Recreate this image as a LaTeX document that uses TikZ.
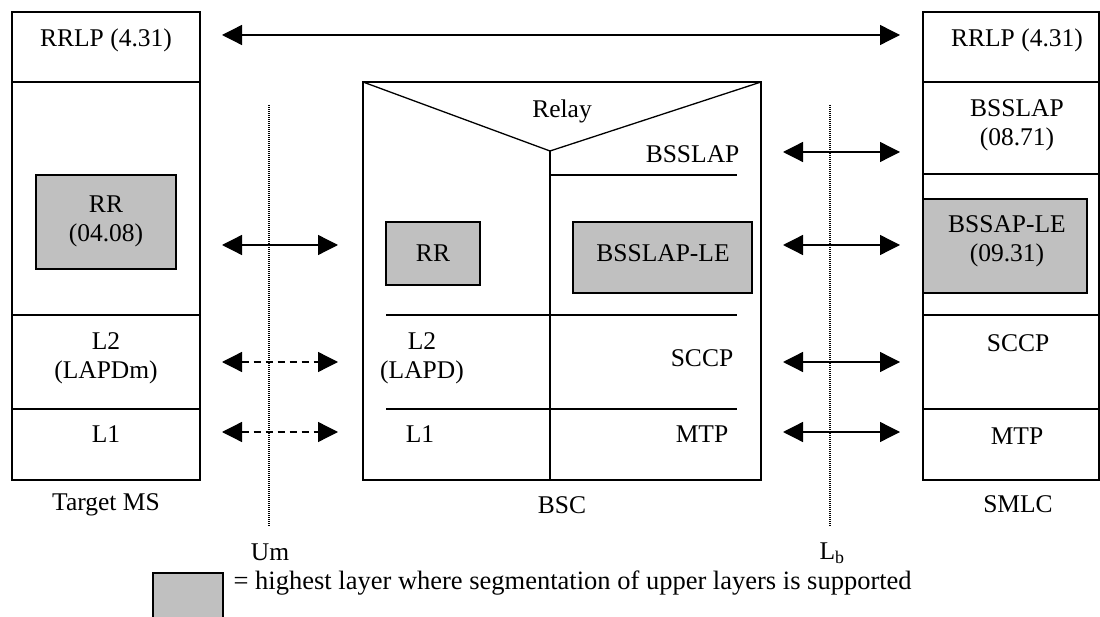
\documentclass[tikz,border=0pt]{standalone}
\usepackage{fontspec}
\setmainfont{Liberation Serif}
\usetikzlibrary{arrows.meta}
\definecolor{hlgray}{HTML}{C0C0C0}
\begin{document}
\begin{tikzpicture}[x=1pt,y=-1pt,line width=1.3pt,
  lbl/.style={font=\fontsize{25.5}{29}\selectfont,inner sep=0pt,align=center},
  hlbox/.style={draw,fill=hlgray,line width=1.3pt},
  biarrow/.style={{Triangle[length=20pt,width=20pt]}-{Triangle[length=20pt,width=20pt]},line width=1.3pt},
  dasharrow/.style={biarrow,dash pattern=on 7pt off 5pt},
  iface/.style={line width=1.2pt,dash pattern=on 1pt off 1pt}]
\useasboundingbox (0,0) rectangle (1100,617);

% ---------- Target MS ----------
\draw (12,12) rectangle (200,480);
\draw (12,82) -- (200,82);
\draw (12,315) -- (200,315);
\draw (12,409) -- (200,409);
\node[lbl] (msrrlp) at (106,40) {RRLP (4.31)};
\draw[hlbox] (36,175) rectangle (176,269);
\node[lbl] (msrr) at (106,221) {RR\\(04.08)};
\node[lbl] (msl2) at (106,358) {L2\\(LAPDm)};
\node[lbl] (msl1) at (106,434) {L1};
\node[lbl] (msname) at (106,505) {Target MS};

% ---------- BSC ----------
\draw (363,82) rectangle (761,480);
\coordinate (relayv) at (550,151);
\draw (363,82) -- (relayv) -- (761,82);
\draw (relayv) -- (550,480);
\node[lbl] (relay) at (562,111) {Relay};
\node[lbl,anchor=east] (bscbsslap) at (740,154) {BSSLAP};
\draw (550,175) -- (737,175);
\draw[hlbox] (386,222) rectangle (480,285);
\node[lbl] (bscrr) at (433,253) {RR};
\draw[hlbox] (573,222) rectangle (752,293);
\node[lbl] (bscle) at (663,253) {BSSLAP-LE};
\draw (386,315) -- (737,315);
\draw (386,409) -- (737,409);
\node[lbl] (bscl2) at (422,358) {L2\\(LAPD)};
\node[lbl] (bscsccp) at (702,358) {SCCP};
\node[lbl] (bscl1) at (420,434) {L1};
\node[lbl] (bscmtp) at (702,434) {MTP};
\node[lbl] (bscname) at (562,505) {BSC};

% ---------- SMLC ----------
\draw (923,12) -- (923,480) -- (1099,480) -- (1099,12) -- cycle;
\draw (923,82) -- (1099,82);
\draw (923,174) -- (1099,174);
\draw (923,315) -- (1099,315);
\draw (923,409) -- (1099,409);
\node[lbl] (smrrlp) at (1017,40) {RRLP (4.31)};
\node[lbl] (smbsslap) at (1017,125) {BSSLAP\\(08.71)};
\draw[hlbox] (923,199) rectangle (1087,293);
\node[lbl] (smle) at (1007,241) {BSSAP-LE\\(09.31)};
\node[lbl] (smsccp) at (1018,343) {SCCP};
\node[lbl] (smmtp) at (1017,436) {MTP};
\node[lbl] (smname) at (1018,504) {SMLC};

% ---------- interfaces ----------
\coordinate (umtop) at (269,105);
\coordinate (umbot) at (269,527);
\draw[iface] (umtop) -- (umbot);
\node[lbl] (um) at (270,552) {Um};
\coordinate (lbtop) at (830,105);
\coordinate (lbbot) at (830,527);
\draw[iface] (lbtop) -- (lbbot);
\node[lbl] (lb) at (832,553) {L\textsubscript{b}};

% ---------- arrows ----------
\coordinate (a0l) at (222,35);  \coordinate (a0r) at (900,35);
\draw[biarrow] (a0l) -- (a0r);
\coordinate (a1l) at (222,245); \coordinate (a1r) at (338,245);
\draw[biarrow] (a1l) -- (a1r);
\coordinate (a2l) at (222,362); \coordinate (a2r) at (338,362);
\draw[dasharrow] (a2l) -- (a2r);
\coordinate (a3l) at (222,432); \coordinate (a3r) at (338,432);
\draw[dasharrow] (a3l) -- (a3r);
\coordinate (b1l) at (783,152); \coordinate (b1r) at (900,152);
\draw[biarrow] (b1l) -- (b1r);
\coordinate (b2l) at (783,245); \coordinate (b2r) at (900,245);
\draw[biarrow] (b2l) -- (b2r);
\coordinate (b3l) at (783,362); \coordinate (b3r) at (900,362);
\draw[biarrow] (b3l) -- (b3r);
\coordinate (b4l) at (783,432); \coordinate (b4r) at (900,432);
\draw[biarrow] (b4l) -- (b4r);

% ---------- legend ----------
\fill[hlgray] (153,573) rectangle (223,618);
\draw (153,618) -- (153,573) -- (223,573) -- (223,618);
\node[lbl,anchor=west,font=\fontsize{26.5}{30}\selectfont] (legend) at (233,583) {= highest layer where segmentation of upper layers is supported};
\end{tikzpicture}
\end{document}
